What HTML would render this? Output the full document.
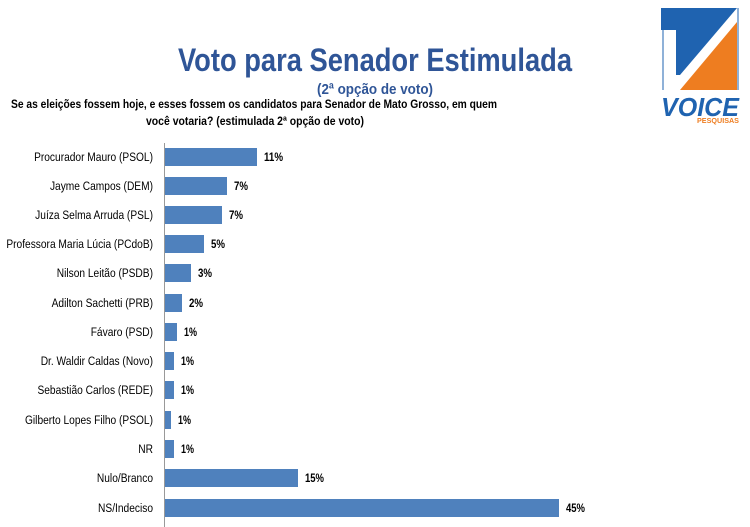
<!DOCTYPE html>
<html><head><meta charset="utf-8"><style>
body{margin:0;background:#fff;}
svg{display:block;font-family:"Liberation Sans",sans-serif;}
</style></head><body>
<svg width="750" height="527" viewBox="0 0 750 527">
<text x="178" y="71" font-size="32" font-weight="bold" fill="#2f5597" textLength="394" lengthAdjust="spacingAndGlyphs">Voto para Senador Estimulada</text>
<text x="317" y="94" font-size="15" font-weight="bold" fill="#2f5597" textLength="116" lengthAdjust="spacingAndGlyphs">(2ª opção de voto)</text>
<text x="11" y="108" font-size="12" font-weight="bold" fill="#000" textLength="486" lengthAdjust="spacingAndGlyphs">Se as eleições fossem hoje, e esses fossem os candidatos para Senador de Mato Grosso, em quem</text>
<text x="146" y="125" font-size="12" font-weight="bold" fill="#000" textLength="218" lengthAdjust="spacingAndGlyphs">você votaria?  (estimulada 2ª opção de voto)</text>
<g>
<polygon points="661,8 737,8 680,75 676,75 676,30 661,30" fill="#1f63b0"/>
<polygon points="737,22 737,90 680,90" fill="#ee7d20"/>
<line x1="663" y1="30" x2="663" y2="90" stroke="#1f63b0" stroke-width="1"/>
<line x1="738" y1="8" x2="738" y2="90" stroke="#1f63b0" stroke-width="1"/>
<text x="661" y="116" font-size="26" font-weight="bold" font-style="italic" fill="#1f63b0" textLength="78" lengthAdjust="spacingAndGlyphs">VOICE</text>
<text x="697" y="123" font-size="7" font-weight="bold" fill="#ee7d20" textLength="42" lengthAdjust="spacingAndGlyphs">PESQUISAS</text>
</g>
<line x1="164.5" y1="143" x2="164.5" y2="527" stroke="#999" stroke-width="1"/>
<g font-size="12" fill="#000">
<g text-anchor="end" transform="translate(153,0) scale(0.85,1) translate(-153,0)">
<text x="153" y="161">Procurador Mauro (PSOL)</text>
<text x="153" y="190">Jayme Campos (DEM)</text>
<text x="153" y="219">Juíza Selma Arruda (PSL)</text>
<text x="153" y="248">Professora Maria Lúcia (PCdoB)</text>
<text x="153" y="277">Nilson Leitão (PSDB)</text>
<text x="153" y="307">Adilton Sachetti (PRB)</text>
<text x="153" y="336">Fávaro (PSD)</text>
<text x="153" y="365">Dr. Waldir Caldas (Novo)</text>
<text x="153" y="394">Sebastião Carlos (REDE)</text>
<text x="153" y="424">Gilberto Lopes Filho (PSOL)</text>
<text x="153" y="453">NR</text>
<text x="153" y="482">Nulo/Branco</text>
<text x="153" y="512">NS/Indeciso</text>
</g>
<g fill="#4f81bd">
<rect x="165" y="148" width="92" height="18"/>
<rect x="165" y="177" width="62" height="18"/>
<rect x="165" y="206" width="57" height="18"/>
<rect x="165" y="235" width="39" height="18"/>
<rect x="165" y="264" width="26" height="18"/>
<rect x="165" y="294" width="17" height="18"/>
<rect x="165" y="323" width="12" height="18"/>
<rect x="165" y="352" width="9" height="18"/>
<rect x="165" y="381" width="9" height="18"/>
<rect x="165" y="411" width="6" height="18"/>
<rect x="165" y="440" width="9" height="18"/>
<rect x="165" y="469" width="133" height="18"/>
<rect x="165" y="499" width="394" height="18"/>
</g>
<g font-weight="bold" lengthAdjust="spacingAndGlyphs">
<text x="264" y="161" textLength="19" lengthAdjust="spacingAndGlyphs">11%</text>
<text x="234" y="190" textLength="14" lengthAdjust="spacingAndGlyphs">7%</text>
<text x="229" y="219" textLength="14" lengthAdjust="spacingAndGlyphs">7%</text>
<text x="211" y="248" textLength="14" lengthAdjust="spacingAndGlyphs">5%</text>
<text x="198" y="277" textLength="14" lengthAdjust="spacingAndGlyphs">3%</text>
<text x="189" y="307" textLength="14" lengthAdjust="spacingAndGlyphs">2%</text>
<text x="184" y="336" textLength="13" lengthAdjust="spacingAndGlyphs">1%</text>
<text x="181" y="365" textLength="13" lengthAdjust="spacingAndGlyphs">1%</text>
<text x="181" y="394" textLength="13" lengthAdjust="spacingAndGlyphs">1%</text>
<text x="178" y="424" textLength="13" lengthAdjust="spacingAndGlyphs">1%</text>
<text x="181" y="453" textLength="13" lengthAdjust="spacingAndGlyphs">1%</text>
<text x="305" y="482" textLength="19" lengthAdjust="spacingAndGlyphs">15%</text>
<text x="566" y="512" textLength="19" lengthAdjust="spacingAndGlyphs">45%</text>
</g>
</g>
</svg>
</body></html>
